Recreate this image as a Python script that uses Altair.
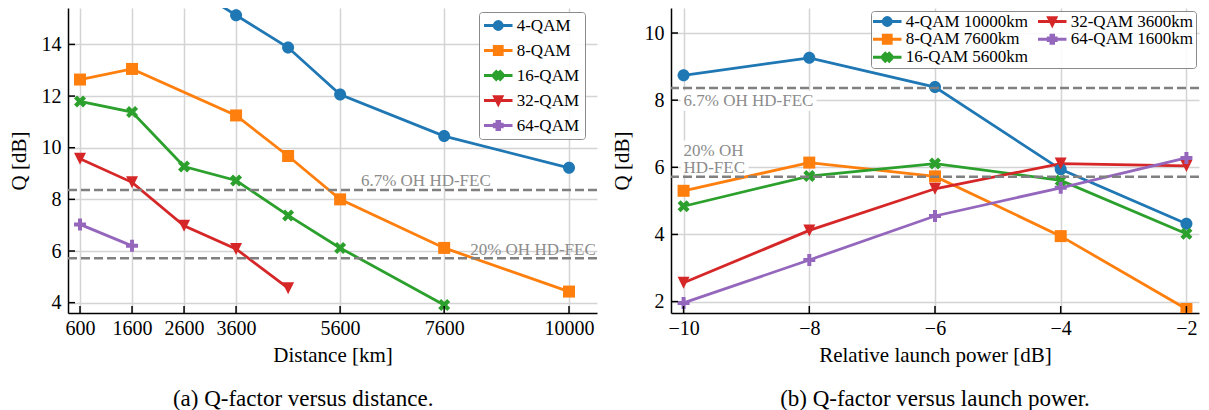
import altair as alt
import pandas as pd

FONT = "Liberation Serif"
TAB = ["#1f77b4", "#ff7f0e", "#2ca02c", "#d62728", "#9467bd"]
FEC_GRAY = "#808080"
GRID = "#d4d4d4"

# ---------------- Panel (a): Q vs distance ----------------
series_a = ["4-QAM", "8-QAM", "16-QAM", "32-QAM", "64-QAM"]
dist_4qam = [2600, 3600, 4600, 5600, 7600, 10000]
q_4qam = [16.4, 15.13, 13.88, 12.06, 10.45, 9.22]
dist_8qam = [600, 1600, 3600, 4600, 5600, 7600, 10000]
q_8qam = [12.64, 13.05, 11.25, 9.68, 8.0, 6.12, 4.43]
dist_16qam = [600, 1600, 2600, 3600, 4600, 5600, 7600]
q_16qam = [11.79, 11.38, 9.27, 8.73, 7.38, 6.12, 3.91]
dist_32qam = [600, 1600, 2600, 3600, 4600]
q_32qam = [9.57, 8.66, 6.98, 6.08, 4.56]
dist_64qam = [600, 1600]
q_64qam = [7.03, 6.2]
dist_ticks = [600, 1600, 2600, 3600, 5600, 7600, 10000]
q_ticks_a = [4, 6, 8, 10, 12, 14]

# ---------------- Panel (b): Q vs launch power ----------------
series_b = ["4-QAM 10000km", "8-QAM 7600km", "16-QAM 5600km", "32-QAM 3600km", "64-QAM 1600km"]
power_db = [-10, -8, -6, -4, -2]
qb_4qam = [8.74, 9.26, 8.39, 5.94, 4.32]
qb_8qam = [5.3, 6.14, 5.73, 3.95, 1.78]
qb_16qam = [4.84, 5.74, 6.11, 5.61, 4.02]
qb_32qam = [2.56, 4.12, 5.36, 6.11, 6.04]
qb_64qam = [1.96, 3.24, 4.55, 5.39, 6.28]
power_ticks = [-10, -8, -6, -4, -2]
q_ticks_b = [2, 4, 6, 8, 10]

# FEC thresholds
fec_labels = ["6.7% OH HD-FEC", "20% OH HD-FEC"]
fec_q = [8.36, 5.72]
fec_text_a_x = [6000, 8100]
fec_text_a_y = [8.5, 5.86]
fec_labels_b = ["6.7% OH HD-FEC", "20% OH\nHD-FEC"]
fec_text_b_x = [-10.0, -10.0]
fec_text_b_y = [7.83, 6.34]

W_A, W_B, H = 529, 528, 305
X_DOM_A = [369, 10538]
Y_DOM_A = [3.60, 15.41]
X_DOM_B = [-10.2, -1.8]
Y_DOM_B = [1.66, 10.745]


def fmt(v):
    return f"{v:.3f}".rstrip("0").rstrip(".")


def poly(pts, s, dx=0.0):
    return "M" + "L".join(f"{fmt(x * s + dx)},{fmt(y * s)}" for x, y in pts) + "Z"


def marker(kind, s, dx=0.0):
    if kind == "circle":
        return (f"M{fmt(s + dx)},0A{fmt(s)},{fmt(s)},0,1,1,{fmt(-s + dx)},0"
                f"A{fmt(s)},{fmt(s)},0,1,1,{fmt(s + dx)},0Z")
    if kind == "square":
        return poly([(-1, -1), (1, -1), (1, 1), (-1, 1)], s, dx)
    if kind == "tri":
        return poly([(-1, -1), (1, -1), (0, 1)], s, dx)
    if kind == "X":
        return poly([(0.5, 0), (1, 0.5), (0.5, 1), (0, 0.5), (-0.5, 1), (-1, 0.5),
                     (-0.5, 0), (-1, -0.5), (-0.5, -1), (0, -0.5), (0.5, -1), (1, -0.5)], s, dx)
    if kind == "P":
        a = 1 / 3
        return poly([(-1, -a), (-a, -a), (-a, -1), (a, -1), (a, -a), (1, -a),
                     (1, a), (a, a), (a, 1), (-a, 1), (-a, a), (-1, a)], s, dx)


KINDS = ["circle", "square", "X", "tri", "P"]
plot_paths = [marker(k, 1.0) for k in KINDS]
# legend glyph: a short line through the marker (units of 5 px, symbol centre sits 8.5 px in)
LEG_DX = 1.15
leg_paths = [f"M{fmt(-2.85 + LEG_DX)},0H{fmt(2.85 + LEG_DX)}"
             + marker(k, 0.8 if k != "tri" else 0.75, LEG_DX) for k in KINDS]


def make_df(names, xs_list, ys_list):
    rows = []
    for n, xs, ys in zip(names, xs_list, ys_list):
        for x, y in zip(xs, ys):
            rows.append({"series": n, "x": x, "q": y})
    return pd.DataFrame(rows)


df_a = make_df(series_a, [dist_4qam, dist_8qam, dist_16qam, dist_32qam, dist_64qam],
               [q_4qam, q_8qam, q_16qam, q_32qam, q_64qam])
df_b = make_df(series_b, [power_db] * 5, [qb_4qam, qb_8qam, qb_16qam, qb_32qam, qb_64qam])


def panel(df, names, x_dom, y_dom, x_ticks, y_ticks, x_title, caption,
          ann_x, ann_y, ann_text, legend_kw, width, boxed, title_frame):
    xs = alt.Scale(domain=x_dom, nice=False, zero=False)
    ys = alt.Scale(domain=y_dom, nice=False, zero=False)
    cs = alt.Scale(domain=names, range=TAB)
    ss = alt.Scale(domain=names, range=TAB)
    shs = alt.Scale(domain=names, range=leg_paths)

    x_axis = alt.Axis(values=x_ticks, grid=True, gridColor=GRID, gridWidth=1.5,
                      ticks=False, labelFont=FONT, labelFontSize=20, labelColor="black",
                      labelPadding=5, domainColor="black", domainWidth=1.5,
                      title=x_title, titleFont=FONT, titleFontSize=21, titleFontWeight="normal",
                      titleColor="black", titlePadding=6, format="d", labelFlush=False)
    y_axis = alt.Axis(values=y_ticks, grid=True, gridColor=GRID, gridWidth=1.5,
                      ticks=False, labelFont=FONT, labelFontSize=20, labelColor="black",
                      labelPadding=7, domainColor="black", domainWidth=1.5,
                      title="Q [dB]", titleFont=FONT, titleFontSize=21, titleFontWeight="normal",
                      titleColor="black", titlePadding=12, format="d", labelFlush=False)

    base = alt.Chart(df)
    X = alt.X("x:Q", scale=xs, axis=x_axis)
    Y = alt.Y("q:Q", scale=ys, axis=y_axis)

    line_layers = []
    point_layers = []
    for i, n in enumerate(names):
        sub = base.transform_filter(alt.datum.series == n)
        line_layers.append(
            sub.mark_line(strokeWidth=2.8, clip=True, color=TAB[i]).encode(x=X, y=Y)
        )
        point_layers.append(
            sub.mark_point(filled=True, shape=plot_paths[i], size=144, opacity=1, clip=True,
                           color=TAB[i]).encode(x=X, y=Y)
        )

    legend = alt.Legend(
        title=None, labelFont=FONT, labelFontSize=17, labelColor="black",
        symbolSize=100, symbolOffset=0, labelOffset=15.7, symbolStrokeWidth=2.8,
        symbolOpacity=1,
        strokeColor="#8a8a8a", fillColor="rgba(255,255,255,0.85)", cornerRadius=3,
        orient="none", **legend_kw,
    )

    # legend-only layer: no rows survive the filter, the scales carry the entries
    leg_layer = base.transform_filter("false").mark_point(
        filled=True, size=100, opacity=1, strokeWidth=2.8
    ).encode(
        x=X, y=Y,
        color=alt.Color("series:N", scale=cs, legend=legend),
        stroke=alt.Stroke("series:N", scale=ss, legend=legend),
        shape=alt.Shape("series:N", scale=shs, legend=legend),
    )

    fec_df = pd.DataFrame({"q": fec_q})
    fec = alt.Chart(fec_df).mark_rule(color=FEC_GRAY, strokeWidth=2.6, strokeDash=[9, 4]).encode(
        y=Y
    )
    ann_df = pd.DataFrame({"x": ann_x, "q": ann_y, "t": ann_text})
    txt_kw = dict(align="left", baseline="alphabetic", font=FONT, fontSize=17,
                  lineBreak="\n", lineHeight=17)
    ann = alt.Chart(ann_df).mark_text(color="#8c8c8c", **txt_kw).encode(
        x=X, y=Y, text="t:N"
    )
    layers = line_layers + point_layers + [fec]
    if boxed:
        # white text boxes (like a matplotlib bbox) behind each annotation
        box_style = [dict(width=136, height=20, xOffset=65, yOffset=-5),
                     dict(width=68, height=34, xOffset=31, yOffset=1.5)]
        for i, st in enumerate(box_style):
            one = ann_df.iloc[[i]]
            layers.append(
                alt.Chart(one).mark_rect(color="white", opacity=0.92, **st).encode(x=X, y=Y)
            )
    layers.append(ann)

    ytick_df = pd.DataFrame({"q": y_ticks})
    xtick_df = pd.DataFrame({"x": x_ticks})
    yt = alt.Chart(ytick_df).mark_rule(color="black", strokeWidth=1.5).encode(
        y=Y, x=alt.value(0), x2=alt.value(7)
    )
    xt = alt.Chart(xtick_df).mark_rule(color="black", strokeWidth=1.5).encode(
        x=X, y=alt.value(H), y2=alt.value(H - 7)
    )
    layers += [yt, xt, leg_layer]

    return alt.layer(*layers).properties(
        width=width, height=H,
        title=alt.TitleParams(text=caption, orient="bottom", font=FONT, fontSize=23,
                              fontWeight="normal", color="black", offset=23,
                              anchor="middle", frame=title_frame),
    )


pa = panel(df_a, series_a, X_DOM_A, Y_DOM_A, dist_ticks, q_ticks_a, "Distance [km]",
           "(a) Q-factor versus distance.", fec_text_a_x, fec_text_a_y, fec_labels,
           dict(legendX=411, legendY=4, padding=5, rowPadding=7, clipHeight=17),
           W_A, False, "bounds")
pb = panel(df_b, series_b, X_DOM_B, Y_DOM_B, power_ticks, q_ticks_b,
           "Relative launch power [dB]", "(b) Q-factor versus launch power.",
           fec_text_b_x, fec_text_b_y, fec_labels_b,
           dict(legendX=200, legendY=3, padding=2, rowPadding=0, clipHeight=16.5,
                columns=2, columnPadding=9),
           W_B, True, "group")

chart = alt.hconcat(pa, pb, spacing=74, bounds="flush").resolve_scale(
    color="independent", shape="independent", stroke="independent",
    x="independent", y="independent"
).resolve_legend(color="independent", shape="independent", stroke="independent").properties(
    padding=0
).configure(
    font=FONT, background="white",
    view=alt.ViewConfig(strokeWidth=0),
    title=alt.TitleConfig(font=FONT),
)

chart.save("out.html", embed_options={"renderer": "svg", "actions": False})
